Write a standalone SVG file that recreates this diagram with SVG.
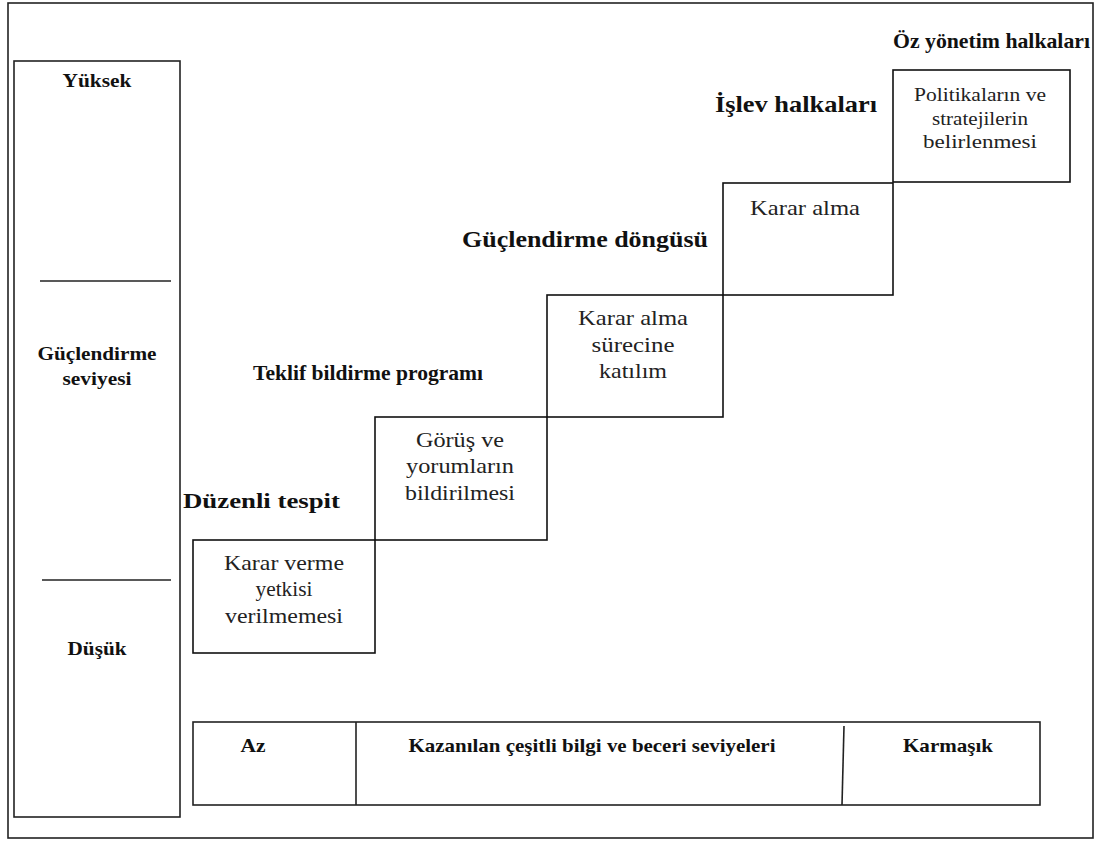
<svg xmlns="http://www.w3.org/2000/svg" width="1097" height="843" viewBox="0 0 1097 843">
  <style>
    .frame { fill: none; stroke: #222; stroke-width: 1.6; }
    .box { fill: none; stroke: #111; stroke-width: 1.6; }
    .rule { stroke: #222; stroke-width: 1.6; }
    text { font-family: 'Liberation Serif', 'Times New Roman', serif; }
    .lbl { font-weight: bold; fill: #111; }
    .txt { fill: #222; text-anchor: middle; font-size: 21px; }
    .small { font-size: 18px; }
    .side { font-weight: bold; fill: #111; font-size: 19px; text-anchor: middle; }
  </style>
  <rect x="0" y="0" width="1097" height="843" fill="#fff"/>

  <!-- outer frame -->
  <rect class="frame" x="8" y="3" width="1085" height="835"/>

  <!-- empowerment level scale -->
  <g id="level-scale">
    <rect class="frame" x="14" y="61" width="166" height="756"/>
    <line class="rule" x1="40" y1="281" x2="171" y2="281"/>
    <line class="rule" x1="42" y1="580" x2="171" y2="580"/>
    <text class="side" x="97" y="87" textLength="69" lengthAdjust="spacingAndGlyphs">Yüksek</text>
    <text class="side" x="97" y="360" textLength="119" lengthAdjust="spacingAndGlyphs">Güçlendirme</text>
    <text class="side" x="97" y="385" textLength="69" lengthAdjust="spacingAndGlyphs">seviyesi</text>
    <text class="side" x="97" y="655" textLength="59" lengthAdjust="spacingAndGlyphs">Düşük</text>
  </g>

  <!-- staircase steps -->
  <g id="step1">
    <rect class="box" x="193" y="540" width="182" height="113"/>
    <text class="txt" x="284" y="570" textLength="120" lengthAdjust="spacingAndGlyphs">Karar verme</text>
    <text class="txt" x="284" y="596" textLength="57" lengthAdjust="spacingAndGlyphs">yetkisi</text>
    <text class="txt" x="284" y="623" textLength="118" lengthAdjust="spacingAndGlyphs">verilmemesi</text>
  </g>
  <g id="step2">
    <rect class="box" x="375" y="417" width="172" height="123"/>
    <text class="txt" x="460" y="447" textLength="88" lengthAdjust="spacingAndGlyphs">Görüş ve</text>
    <text class="txt" x="460" y="473" textLength="108" lengthAdjust="spacingAndGlyphs">yorumların</text>
    <text class="txt" x="460" y="500" textLength="110" lengthAdjust="spacingAndGlyphs">bildirilmesi</text>
  </g>
  <g id="step3">
    <rect class="box" x="547" y="295" width="176" height="122"/>
    <text class="txt" x="633" y="325" textLength="110" lengthAdjust="spacingAndGlyphs">Karar alma</text>
    <text class="txt" x="633" y="352" textLength="83" lengthAdjust="spacingAndGlyphs">sürecine</text>
    <text class="txt" x="633" y="378" textLength="68" lengthAdjust="spacingAndGlyphs">katılım</text>
  </g>
  <g id="step4">
    <rect class="box" x="723" y="183" width="170" height="112"/>
    <text class="txt" x="805" y="215" textLength="110" lengthAdjust="spacingAndGlyphs">Karar alma</text>
  </g>
  <g id="step5">
    <rect class="box" x="893" y="70" width="177" height="112"/>
    <text class="txt small" x="980" y="101" textLength="132" lengthAdjust="spacingAndGlyphs">Politikaların ve</text>
    <text class="txt small" x="980" y="125" textLength="96" lengthAdjust="spacingAndGlyphs">stratejilerin</text>
    <text class="txt small" x="980" y="148" textLength="114" lengthAdjust="spacingAndGlyphs">belirlenmesi</text>
  </g>

  <!-- stage titles -->
  <g id="stage-titles">
    <text class="lbl" font-size="22" x="183" y="508" textLength="157" lengthAdjust="spacingAndGlyphs">Düzenli tespit</text>
    <text class="lbl" font-size="21" x="253" y="380" textLength="230" lengthAdjust="spacingAndGlyphs">Teklif bildirme programı</text>
    <text class="lbl" font-size="23" x="462" y="247" textLength="246" lengthAdjust="spacingAndGlyphs">Güçlendirme döngüsü</text>
    <text class="lbl" font-size="23" x="715" y="112" textLength="162" lengthAdjust="spacingAndGlyphs">İşlev halkaları</text>
    <text class="lbl" font-size="22" x="893" y="48" textLength="197" lengthAdjust="spacingAndGlyphs">Öz yönetim halkaları</text>
  </g>

  <!-- knowledge and skill scale -->
  <g id="skill-scale">
    <rect class="frame" x="193" y="722" width="847" height="83"/>
    <line class="rule" x1="356" y1="722" x2="356" y2="805"/>
    <line class="rule" x1="844" y1="726" x2="842" y2="805"/>
    <text class="side" x="253" y="752" textLength="25" lengthAdjust="spacingAndGlyphs">Az</text>
    <text class="side" x="592" y="752" textLength="367" lengthAdjust="spacingAndGlyphs">Kazanılan çeşitli bilgi ve beceri seviyeleri</text>
    <text class="side" x="948" y="752" textLength="90" lengthAdjust="spacingAndGlyphs">Karmaşık</text>
  </g>
</svg>
